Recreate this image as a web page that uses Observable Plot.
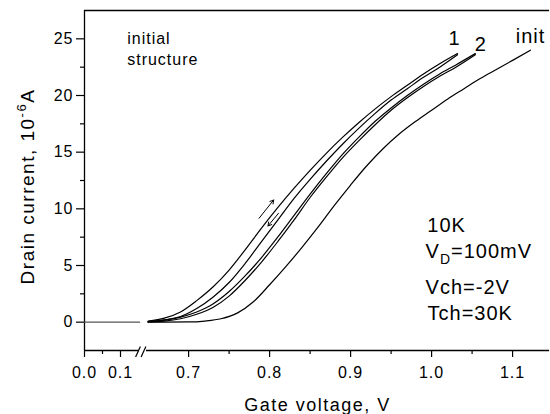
<!DOCTYPE html>
<html>
<head>
<meta charset="utf-8">
<script src="https://cdn.jsdelivr.net/npm/d3@7"></script>
<script src="https://cdn.jsdelivr.net/npm/@observablehq/plot@0.6"></script>
<style>
  html, body { margin: 0; padding: 0; background: #fff; }
  svg text { letter-spacing: 1px; }
  svg g[aria-label="x-axis tick label"] text,
  svg g[aria-label="y-axis tick label"] text { font-size: 16px; }
</style>
</head>
<body>
<div id="chart"></div>
<script>
// ---- data ----
const xTicksMajor = [0, 0.1, 0.7, 0.8, 0.9, 1.0, 1.1];
const xTicksMinor = [0.05, 0.75, 0.85, 0.95, 1.05];
const yTicksMajor = [0, 5, 10, 15, 20, 25];
const yTicksMinor = [2.5, 7.5, 12.5, 17.5, 22.5];

// low-voltage segment (before axis break): all curves at zero
const vLow = [0, 0.153];
const iLow = [0, 0];

// curve 1 (two sweep branches)
const v1 = [0.65,0.67,0.69,0.71,0.73,0.75,0.77,0.79,0.81,0.83,0.85,0.87,0.89,0.91,0.93,0.95,0.97,0.99,1.01,1.032];
const i1up = [0.1,0.35,0.9,1.9,3.1,4.6,6.4,8.3,10.1,11.8,13.4,14.9,16.3,17.6,18.8,19.9,20.9,21.9,22.8,23.7];
const i1down = [0.05,0.2,0.5,1.2,2.2,3.5,5.2,7.1,9.0,10.9,12.6,14.2,15.7,17.1,18.4,19.6,20.6,21.6,22.5,23.6];

// curve 2 (two sweep branches)
const v2 = [0.65,0.67,0.69,0.71,0.73,0.75,0.77,0.79,0.81,0.83,0.85,0.87,0.89,0.91,0.93,0.95,0.97,0.99,1.01,1.03,1.054];
const i2up = [0.05,0.18,0.45,0.9,1.6,2.7,4.1,5.7,7.5,9.4,11.3,13.1,14.8,16.3,17.7,18.9,20.0,21.0,21.9,22.7,23.7];
const i2down = [0.03,0.1,0.3,0.7,1.3,2.3,3.7,5.3,7.1,9.0,11.0,12.8,14.5,16.0,17.4,18.7,19.8,20.8,21.7,22.5,23.6];

// initial structure
const vInit = [0.65,0.70,0.72,0.74,0.76,0.78,0.80,0.82,0.84,0.86,0.88,0.90,0.92,0.94,0.96,0.98,1.00,1.02,1.04,1.06,1.08,1.10,1.122];
const iInit = [0.0,0.02,0.1,0.3,0.8,1.8,3.3,4.9,6.6,8.4,10.3,12.1,13.8,15.3,16.6,17.7,18.7,19.7,20.6,21.5,22.3,23.1,24.0];

// sweep direction arrows
const arrows = [
  {x1: 0.787, y1: 9.17, x2: 0.805, y2: 10.78},
  {x1: 0.811, y1: 9.61, x2: 0.798, y2: 8.49}
];

// curve labels
const curveLabels = [
  {x: 1.0284, y: 24.49, text: "1"},
  {x: 1.0607, y: 23.96, text: "2"},
  {x: 1.1222, y: 24.6, text: "init"}
];
const conditionLines = [
  {x: 0.9947, y: 7.97, text: "10K"},
  {x: 0.9926, y: 5.68, text: "VD=100mV"},
  {x: 0.9926, y: 2.52, text: "Vch=-2V"},
  {x: 0.995, y: 0.15, text: "Tch=30K"}
];
const noteLines = [
  {x: 0.1186, y: 24.58, text: "initial"},
  {x: 0.1186, y: 22.7, text: "structure"}
];

// scale domains (broken x axis)
const xDomain = [0, 0.16, 0.648, 1.1457];
const yDomain = [-2.5, 27.5];
const breakAt = 0.15;

const toRows = (v, i) => v.map((x, k) => ({x, y: i[k]}));
const curves = [
  toRows(v1, i1up), toRows(v1, i1down),
  toRows(v2, i2up), toRows(v2, i2down),
  toRows(vInit, iInit)
];

function breakMarks(index, scales) {
  const x0 = scales.x(breakAt), y0 = scales.y(yDomain[0]);
  const g = d3.create("svg:g").attr("stroke", "black").attr("stroke-width", 1.2);
  for (const off of [0, 5.5]) {
    g.append("line")
      .attr("x1", x0 + off - 2.4).attr("y1", y0 + 7)
      .attr("x2", x0 + off + 2.4).attr("y2", y0 - 3.5);
  }
  return g.node();
}

const chart = Plot.plot({
  width: 550,
  height: 414,
  marginLeft: 84,
  marginRight: 0,
  marginTop: 10,
  marginBottom: 64,
  style: {fontFamily: "'Liberation Sans', Arial, Helvetica, sans-serif", color: "black", background: "white"},
  x: {type: "linear", domain: xDomain, range: [84, 141.6, 146, 549.1]},
  y: {domain: yDomain, range: [350, 10]},
  marks: [
    // frame lines
    Plot.ruleX([0], {y1: yDomain[0], y2: yDomain[1], stroke: "black", strokeWidth: 1.3}),
    Plot.ruleY([{x1: 0, x2: 0.152}, {x1: 0.648, x2: xDomain[3]}], {y: yDomain[0], x1: "x1", x2: "x2", stroke: "black", strokeWidth: 1.3}),
    Plot.ruleY([yDomain[1]], {x1: 0, x2: xDomain[3], stroke: "black", strokeWidth: 1.3}),
    breakMarks,
    // axes
    Plot.axisX({ticks: xTicksMajor, tickFormat: d3.format(".1f"), tickSize: 7, tickPadding: 9, fontSize: 16, label: null, stroke: "black", strokeWidth: 1.2, color: "black"}),
    Plot.axisX({ticks: xTicksMinor, tickFormat: () => "", tickSize: 4, label: null, stroke: "black", strokeWidth: 1.2}),
    Plot.axisY({ticks: yTicksMajor, tickFormat: d3.format("d"), tickSize: 8, tickPadding: 3, fontSize: 16, label: null, stroke: "black", strokeWidth: 1.2, color: "black"}),
    Plot.axisY({ticks: yTicksMinor, tickFormat: () => "", tickSize: 4, label: null, stroke: "black", strokeWidth: 1.2}),
    // data
    Plot.line(toRows(vLow, iLow), {x: "x", y: "y", stroke: "#555", strokeWidth: 1.3}),
    ...curves.map(rows => Plot.line(rows, {x: "x", y: "y", stroke: "black", strokeWidth: 1.2, curve: "monotone-x"})),
    Plot.arrow(arrows, {x1: "x1", y1: "y1", x2: "x2", y2: "y2", stroke: "black", strokeWidth: 1, headLength: 6}),
    // labels
    Plot.text(curveLabels, {x: "x", y: "y", text: "text", fontSize: 20, textAnchor: "middle", lineAnchor: "bottom", fill: "black"}),
    Plot.text(conditionLines, {x: "x", y: "y", text: "text", fontSize: 20, textAnchor: "start", lineAnchor: "bottom", fill: "black"}),
    Plot.text(noteLines, {x: "x", y: "y", text: "text", fontSize: 16, textAnchor: "start", lineAnchor: "bottom", fill: "black"}),
    // axis titles
    Plot.text(["Gate voltage, V"], {frameAnchor: "bottom", dy: 60, fontSize: 18, textAnchor: "middle", lineAnchor: "bottom", fill: "black"}),
    Plot.text(["Drain current, 10-6A"], {frameAnchor: "left", dx: -51, dy: 6, rotate: -90, fontSize: 19, textAnchor: "middle", lineAnchor: "bottom", fill: "black"})
  ]
});

// sub/superscripts and title spacing
const svg = d3.select(chart);
svg.selectAll("text").each(function() {
  const t = this.textContent;
  const el = d3.select(this);
  if (t === "VD=100mV") {
    el.text(null);
    el.append("tspan").text("V");
    el.append("tspan").attr("font-size", 14).attr("dy", 6).text("D");
    el.append("tspan").attr("dy", -6).text("=100mV");
  } else if (t === "Drain current, 10-6A") {
    el.text(null);
    el.append("tspan").text("Drain current, 10");
    el.append("tspan").attr("font-size", 13).attr("dy", -8).text("-6");
    el.append("tspan").attr("dy", 8).text("A");
    el.style("letter-spacing", "1.5px");
  } else if (t === "Gate voltage, V") {
    el.style("letter-spacing", "1.5px");
  }
});

document.getElementById("chart").appendChild(chart);
</script>
</body>
</html>
